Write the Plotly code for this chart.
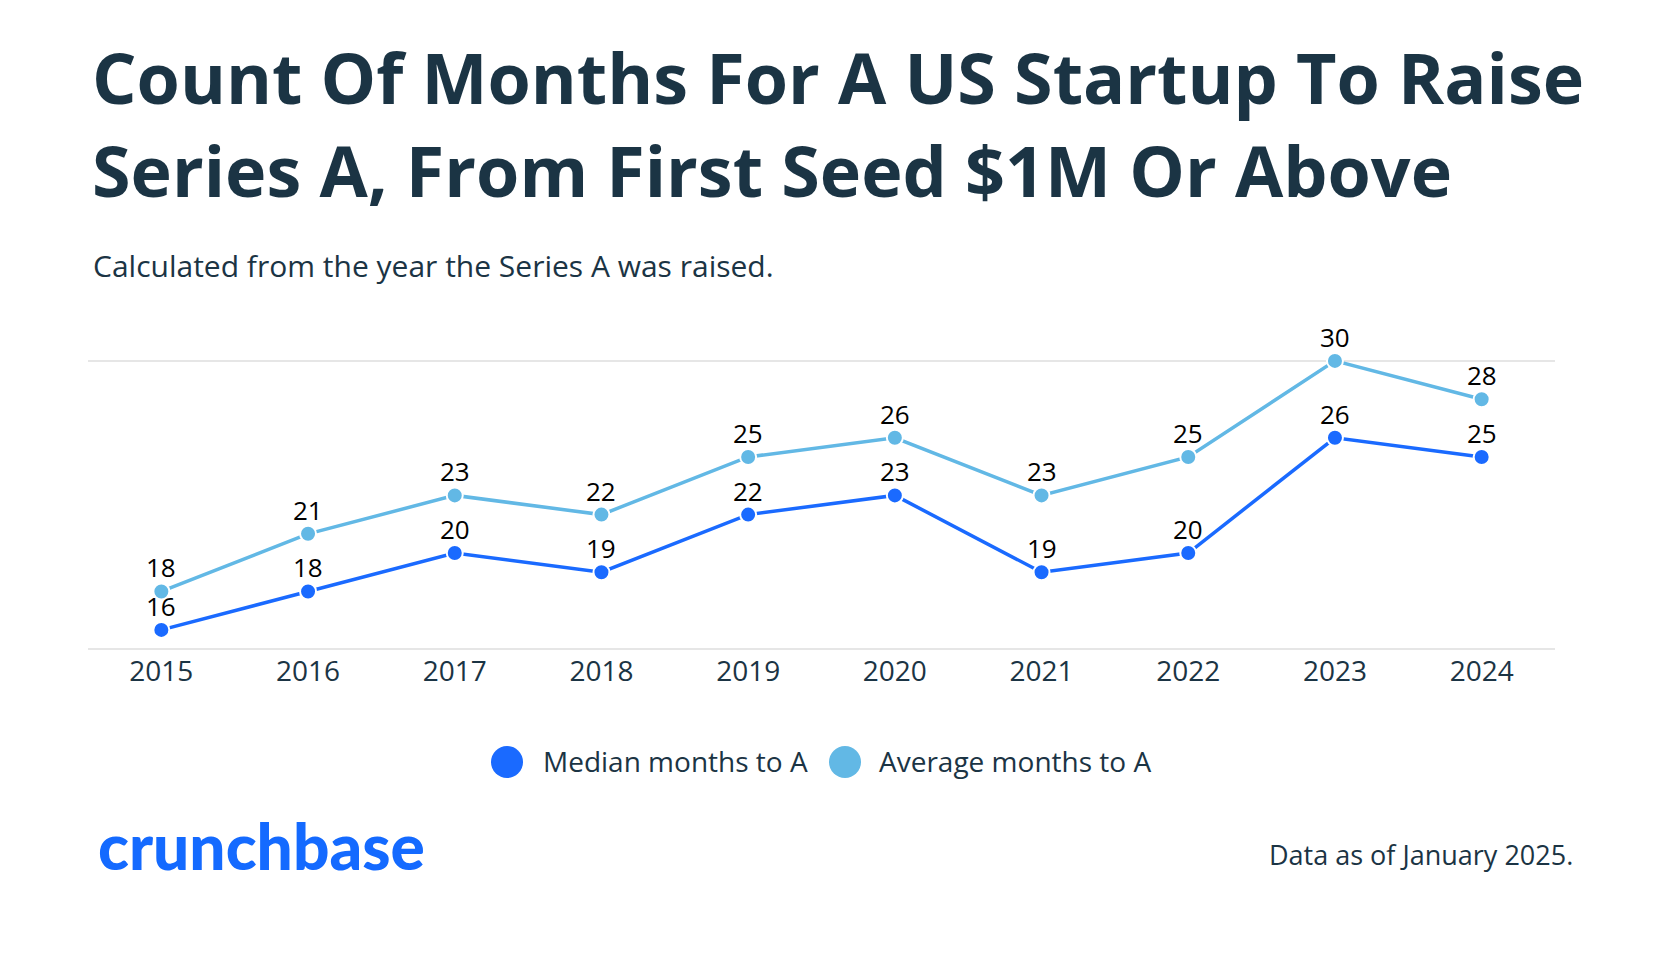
import plotly.graph_objects as go

# data
years = [2015, 2016, 2017, 2018, 2019, 2020, 2021, 2022, 2023, 2024]
median_months = [16, 18, 20, 19, 22, 23, 19, 20, 26, 25]
average_months = [18, 21, 23, 22, 25, 26, 23, 25, 30, 28]

W, H = 1676, 970
L, R, T, B = 88, 121, 358, 318
NAVY = '#1b3444'
BLUE = '#1a6aff'
LIGHT = '#62b8e5'
FONT = 'Open Sans'


def px(x):
    return (x - L) / (W - L - R)


def py(y):
    return (H - B - y) / (H - T - B)


fig = go.Figure()

annotations = []
for name, vals, col in [('Median months to A', median_months, BLUE),
                        ('Average months to A', average_months, LIGHT)]:
    fig.add_trace(go.Scatter(
        x=years, y=vals, name=name, mode='lines+markers',
        line=dict(color=col, width=3.5),
        marker=dict(size=16, color=col, line=dict(color='white', width=2)),
        cliponaxis=False, showlegend=False, hoverinfo='x+y',
    ))
    # value labels sit just above each point
    for xv, yv in zip(years, vals):
        annotations.append(dict(x=xv, y=yv, xref='x', yref='y', text=str(yv),
                                showarrow=False, yanchor='middle', yshift=24,
                                font=dict(size=26, color='#000000', family=FONT)))

texts = [
    dict(text='Count Of Months For A US Startup To Raise',
         x=px(90), y=py(77), xanchor='left', yanchor='middle',
         font=dict(size=70, color=NAVY, family=FONT, weight=700)),
    dict(text='Series A, From First Seed $1M Or Above',
         x=px(90), y=py(170), xanchor='left', yanchor='middle',
         font=dict(size=70, color=NAVY, family=FONT, weight=700)),
    dict(text='Calculated from the year the Series A was raised.',
         x=px(91), y=py(265), xanchor='left', yanchor='middle',
         font=dict(size=30, color=NAVY, family=FONT)),
    dict(text='Median months to A', x=px(541), y=py(761), xanchor='left', yanchor='middle',
         font=dict(size=28, color=NAVY, family=FONT)),
    dict(text='Average months to A', x=px(877), y=py(761), xanchor='left', yanchor='middle',
         font=dict(size=28, color=NAVY, family=FONT)),
    dict(text='crunchbase', x=px(96), y=py(845), xanchor='left', yanchor='middle',
         font=dict(size=64, color='#146aff', family='Lato', weight=900)),
    dict(text='Data as of January 2025.', x=px(1575), y=py(854), xanchor='right', yanchor='middle',
         font=dict(size=27, color=NAVY, family=FONT)),
]
for a in texts:
    a.update(xref='paper', yref='paper', showarrow=False)
annotations += texts

shapes = []
for cx, col in [(507, BLUE), (845, LIGHT)]:
    shapes.append(dict(type='circle', xref='paper', yref='paper',
                       xsizemode='pixel', ysizemode='pixel',
                       xanchor=px(cx), yanchor=py(762),
                       x0=-16, x1=16, y0=-16, y1=16,
                       fillcolor=col, line=dict(width=0)))

fig.update_layout(
    width=W, height=H,
    margin=dict(l=L, r=R, t=T, b=B, pad=0),
    paper_bgcolor='white', plot_bgcolor='white',
    annotations=annotations, shapes=shapes,
    font=dict(family=FONT, color=NAVY),
)
fig.update_xaxes(range=[2014.5, 2024.5], tickvals=years, showgrid=False,
                 showline=False, zeroline=False, ticks='', ticklabelstandoff=0,
                 tickfont=dict(size=28, color=NAVY, family=FONT))
fig.update_yaxes(range=[14.85, 30.15], tickvals=[15, 30], showticklabels=False,
                 showgrid=True, gridcolor='#e6e6e6', gridwidth=2, zeroline=False)

fig.write_html("out.html", config={'displayModeBar': False},
               post_script="document.body.style.margin='0';")
